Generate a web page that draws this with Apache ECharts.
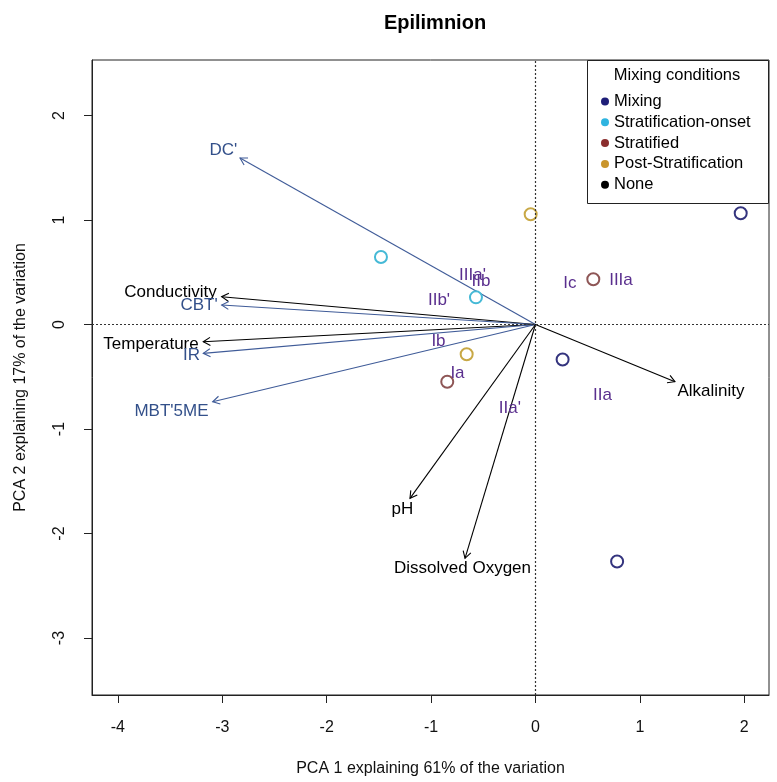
<!DOCTYPE html>
<html>
<head>
<meta charset="utf-8">
<script src="https://cdn.jsdelivr.net/npm/echarts@6/dist/echarts.min.js"></script>
<style>
  html, body { margin: 0; padding: 0; background: #fff; }
  #chart { width: 777px; height: 782px; }
</style>
</head>
<body>
<div id="chart"></div>
<script>
// Axis ticks
const xTicks = [-4, -3, -2, -1, 0, 1, 2];
const yTicks = [-3, -2, -1, 0, 1, 2];

// Sample scores by mixing condition (PC1, PC2)
const mixing = [[1.966, 1.064], [0.26, -0.335], [0.782, -2.268]];
const stratOnset = [[-1.480, 0.646], [-0.570, 0.260]];
const stratified = [[0.554, 0.433], [-0.845, -0.547]];
const postStrat = [[-0.046, 1.055], [-0.659, -0.285]];
const noneGroup = [];

// Site labels
const siteNames = ["IIIa'", "IIb", "IIb'", "Ic", "IIIa", "Ib", "Ia", "IIa", "IIa'"];
const siteX = [-0.603, -0.522, -0.924, 0.330, 0.819, -0.929, -0.747, 0.642, -0.245];
const siteY = [0.471, 0.409, 0.230, 0.390, 0.426, -0.157, -0.466, -0.675, -0.800];

// Variable loadings (arrow tips) and their label anchors
const varNames = ["DC'", "Conductivity", "CBT'", "Temperature", "IR", "MBT'5ME", "pH", "Dissolved Oxygen", "Alkalinity"];
const varX = [-2.830, -3.006, -3.006, -3.182, -3.182, -3.092, -1.202, -0.675, 1.336];
const varY = [1.593, 0.266, 0.187, -0.165, -0.276, -0.739, -1.663, -2.237, -0.547];
const varLabelX = [-2.989, -3.496, -3.223, -3.683, -3.295, -3.487, -1.274, -0.699, 1.681];
const varLabelY = [1.670, 0.306, 0.182, -0.191, -0.292, -0.833, -1.766, -2.333, -0.636];
// 1 = lipid index (blue), 0 = environmental variable (black)
const varKind = [1, 0, 1, 0, 1, 1, 0, 0, 0];

const FONT = "'Liberation Sans', Arial, sans-serif";
const BLUE_LINE = '#3f5b98';
const BLUE_TEXT = '#33508a';
const PURPLE = '#5a2f8e';

const arrowData = varNames.map((n, i) => ({ name: n, value: [varX[i], varY[i], varKind[i]] }));
const varLabelData = varNames.map((n, i) => ({
  name: n,
  value: [varLabelX[i], varLabelY[i]],
  label: { color: varKind[i] ? BLUE_TEXT : '#000' }
}));
const siteData = siteNames.map((n, i) => ({ name: n, value: [siteX[i], siteY[i]] }));

function renderArrow(params, api) {
  const o = api.coord([0, 0]);
  const t = api.coord([api.value(0), api.value(1)]);
  const kind = api.value(2);
  const col = kind ? BLUE_LINE : '#000';
  const ang = Math.atan2(t[1] - o[1], t[0] - o[0]);
  const L = 8, a = Math.PI / 6;
  const p1 = [t[0] - L * Math.cos(ang - a), t[1] - L * Math.sin(ang - a)];
  const p2 = [t[0] - L * Math.cos(ang + a), t[1] - L * Math.sin(ang + a)];
  return {
    type: 'group',
    children: [
      { type: 'line', shape: { x1: o[0], y1: o[1], x2: t[0], y2: t[1] }, style: { stroke: col, lineWidth: 1.1 } },
      { type: 'polyline', shape: { points: [p1, t, p2] }, style: { stroke: col, lineWidth: 1.1, fill: null } }
    ]
  };
}

function groupSeries(name, data, color) {
  return {
    name: name,
    type: 'scatter',
    data: data,
    symbol: 'emptyCircle',
    symbolSize: 12,
    itemStyle: { color: color, borderColor: color, borderWidth: 1, opacity: 1 },
    z: 4
  };
}

const chart = echarts.init(document.getElementById('chart'), null, { renderer: 'canvas' });

chart.setOption({
  animation: false,
  backgroundColor: '#fff',
  textStyle: { fontFamily: FONT },
  title: {
    text: 'Epilimnion',
    left: 430,
    top: 8,
    textAlign: 'center',
    textStyle: { fontFamily: FONT, fontSize: 20, fontWeight: 'bold', color: '#000' }
  },
  grid: {
    left: 92, right: 8, top: 60, bottom: 87,
    show: true, borderColor: '#222', borderWidth: 1, backgroundColor: 'transparent'
  },
  xAxis: {
    type: 'value',
    min: -4.248, max: 2.237,
    name: 'PCA 1 explaining 61% of the variation',
    nameLocation: 'middle',
    nameGap: 66,
    nameTextStyle: { fontFamily: FONT, fontSize: 16, color: '#111' },
    axisLine: { show: true, onZero: false, lineStyle: { color: '#222', width: 1 } },
    axisTick: { show: true, customValues: xTicks, length: 8, lineStyle: { color: '#222' } },
    axisLabel: { customValues: xTicks, margin: 25, fontFamily: FONT, fontSize: 16, color: '#111' },
    splitLine: { show: false }
  },
  yAxis: {
    type: 'value',
    min: -3.545, max: 2.531,
    name: 'PCA 2 explaining 17% of the variation',
    nameLocation: 'middle',
    nameGap: 63,
    nameRotate: 90,
    nameTextStyle: { fontFamily: FONT, fontSize: 16, color: '#111' },
    axisLine: { show: true, onZero: false, lineStyle: { color: '#222', width: 1 } },
    axisTick: { show: true, customValues: yTicks, length: 8, lineStyle: { color: '#222' } },
    axisLabel: { customValues: yTicks, margin: 24, rotate: 90, fontFamily: FONT, fontSize: 16, color: '#111' },
    splitLine: { show: false }
  },
  legend: {
    orient: 'vertical',
    left: 596,
    top: 88,
    itemGap: 3.8,
    itemWidth: 8,
    itemHeight: 8,
    icon: 'circle',
    z: 20,
    textStyle: { fontFamily: FONT, fontSize: 16.5, color: '#000', padding: [0, 0, 0, 0] },
    data: [
      { name: 'Mixing', itemStyle: { color: '#1e1e78', borderWidth: 0 } },
      { name: 'Stratification-onset', itemStyle: { color: '#2fb4e0', borderWidth: 0 } },
      { name: 'Stratified', itemStyle: { color: '#8b2e2e', borderWidth: 0 } },
      { name: 'Post-Stratification', itemStyle: { color: '#c9952c', borderWidth: 0 } },
      { name: 'None', itemStyle: { color: '#000', borderWidth: 0 } }
    ],
    selectedMode: false
  },
  graphic: [
    {
      type: 'rect',
      shape: { x: 587.5, y: 60.5, width: 181, height: 143 },
      style: { fill: '#fff', stroke: '#222', lineWidth: 1 },
      z: 5
    },
    {
      type: 'text',
      x: 677, y: 75,
      style: {
        text: 'Mixing conditions', fontFamily: FONT, fontSize: 16.5, fill: '#000',
        align: 'center', verticalAlign: 'middle'
      },
      z: 6
    }
  ],
  series: [
    {
      name: 'zero',
      type: 'line',
      data: [],
      markLine: {
        silent: true,
        symbol: 'none',
        label: { show: false },
        lineStyle: { color: '#333', type: [2, 2], width: 1.2 },
        data: [{ xAxis: 0 }, { yAxis: 0 }]
      },
      z: 1
    },
    {
      name: 'arrows',
      type: 'custom',
      renderItem: renderArrow,
      data: arrowData,
      z: 3
    },
    {
      name: 'varLabels',
      type: 'scatter',
      data: varLabelData,
      symbolSize: 0,
      itemStyle: { opacity: 1 },
      label: {
        show: true, position: 'inside', formatter: '{b}',
        fontFamily: FONT, fontSize: 17
      },
      z: 5
    },
    {
      name: 'sites',
      type: 'scatter',
      data: siteData,
      symbolSize: 0,
      itemStyle: { opacity: 1 },
      label: {
        show: true, position: 'inside', formatter: '{b}',
        fontFamily: FONT, fontSize: 17, color: PURPLE
      },
      z: 5
    },
    groupSeries('Mixing', mixing, '#34347e'),
    groupSeries('Stratification-onset', stratOnset, '#45b9d6'),
    groupSeries('Stratified', stratified, '#8e5656'),
    groupSeries('Post-Stratification', postStrat, '#c8a845'),
    groupSeries('None', noneGroup, '#000')
  ]
});
</script>
</body>
</html>
